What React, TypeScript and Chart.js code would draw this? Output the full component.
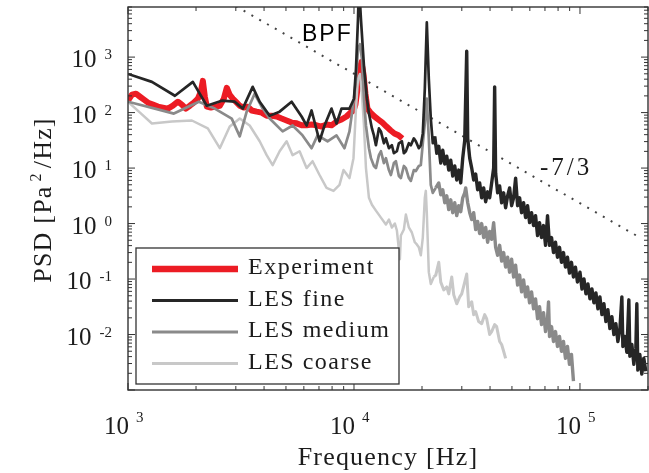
import React, { useEffect, useRef } from "react";
import { Chart, registerables } from "chart.js";

Chart.register(...registerables);

// ---------- axis ranges ----------
const X_MIN = 1000;
const X_MAX = 200000;
const Y_MIN = 0.001;
const Y_MAX = 8000;
const xTickExponents = [3, 4, 5];
const yTickExponents = [-2, -1, 0, 1, 2, 3];

// ---------- Experiment ----------
const expFreq = [1000,1041,1085,1130,1177,1226,1289,1357,1427,1502,1580,1663,1731,1803,1878,1956,2038,2101,2144,2188,2233,2326,2422,2549,2654,2736,2820,2908,3029,3122,3252,3388,3528,3710,3905,4109,4324,4549,4785,5034,5298,5575,5866,6172,6494,6832,7186,7561,7955,8371,8807,9265,9650,9949,10150,10360,10570,10790,11010,11240,11470,11830,12320,12830,13360,13920,14500,15100,15730,16370];
const expPsd = [164,210,219,193,171,151,139,128,123,118,133,157,139,118,133,151,178,237,373,193,128,123,128,133,178,280,209,178,151,133,123,128,109,104,100,88,88,85,78,72,66,64,59,59,61,59,56,61,59,69,75,85,100,109,139,268,562,814,497,218,118,100,85,75,66,56,48,42,39,34];

// ---------- LES fine ----------
const fineFreq = [1000,1276,1613,1936,2232,2600,2967,3219,3562,3826,4235,4688,5297,5864,6169,6491,7041,7408,7954,8369,8805,9550,10000,
10205,10415,10521,10737,11070,11412,11647,12007,12254,12505,12893,13157,13565,13844,14272,14714,15016,15481,15799,16288,16624,16965,17491,17850,18400,18778,19359,19757,20162,20579,21002,21433,
21873,22322,22778,23246,23723,24210,24708,25218,25736,26264,26804,27354,27918,28492,29077,29674,30283,30905,31539,31861,32516,33183,33856,34551,35261,35985,36724,37487,38257,39042,39844,40662,41498,41922,42350,43220,44107,45013,45940,46884,47846,48829,49831,50860,51905,52970,54058,55168,56300,57456,58636,59840,61069,62320,63600,64906,66239,67599,68990,70407,71852,73328,74833,76370,77939,79539,81172,82839,84540,86276,88048,89856,91701,93580,95502,97463,
100000,102054,104149,106288,108470,110697,112970,115290,117657,120073,122538,125054,127622,130242,132916,135645,138430,141272,144173,147134,150156,153240,154810,157990,161230,164540,166240,169650,173140,176690,178500,180320,184000,187780,191630,195570];
const finePsd = [497,358,201,358,133,164,157,118,291,157,88,104,157,85,58.6,109,30.4,58.6,118,63.6,118,118,178,
610,4770,20000,4770,691,178,96,51.8,38.8,25.8,51.8,45.8,28,34.3,22.8,25.8,18.5,20.1,28,30.4,18.5,20.1,28,25.8,34.3,30.4,22.8,25.8,42.2,268,4218,405,
78,28,37.3,18.5,24.7,12.3,21,11.8,16.4,9.2,13.9,7.2,10.9,6.1,9.2,5.4,15.1,31.6,1280,34.3,15.1,10,6.1,7.8,4.05,5.4,2.91,4.39,2.47,3.73,2.91,5.4,10,291,8.1,3.58,4.77,2.37,3.58,1.93,3.16,4.39,2.1,2.91,6.6,2.1,2.91,1.57,2.37,1.28,2.1,1.04,1.57,0.92,1.39,0.61,1.04,0.56,0.92,0.405,1.39,0.405,0.56,0.3,0.46,0.247,0.373,0.2,0.3,0.164,0.247,0.128,0.2,0.109,0.164,0.0884,
0.133,0.0663,0.1,0.054,0.0814,0.0439,0.0663,0.0373,0.0562,0.0291,0.0477,0.0228,0.0358,0.0171,0.028,0.0128,0.021,0.01,0.0157,0.0075,0.0123,0.0477,0.0061,0.0092,0.00477,0.0422,0.00405,0.00663,0.00291,0.00562,0.0358,0.00228,0.00439,0.00193,0.00373,0.00218];

// ---------- LES medium ----------
const medFreq = [1000,1316,1596,2058,2421,2878,3122,3351,3635,3944,4235,4834,5351,5923,6491,6899,7637,8369,9077,9550,10000,
10205,10415,10629,10847,11070,11297,11647,11886,12254,12505,12893,13157,13565,13844,14272,14565,15016,15324,15799,16123,16624,16965,17491,17850,18400,18778,19359,19757,20162,20579,21002,21433,
21873,22322,23011,23723,24210,24708,25218,25736,26264,26804,27354,27918,28492,29077,29674,30283,30905,31220,31861,32516,33183,33856,34551,35261,35985,36724,37487,38257,39042,39844,40662,41498,42350,43220,44107,45013,45940,46884,47846,48829,49831,50860,51905,52970,54058,55168,56300,57456,58636,59840,61069,62320,63600,64906,66239,67599,68990,70407,71852,72590,73328,74833,76370,77939,79539,81172,82839,84540,86276,88048,89856,91701,93580];
const medPsd = [157,118,96,157,118,78,37.3,104,218,118,78,45.8,58.6,38.8,22.8,38.8,30.4,38.8,22.8,45.8,178,
405,1389,1707,921,178,58.6,22.8,15.1,10.9,10,17.1,20.1,12.3,15.1,9.2,7.5,12.3,13.3,7.2,6.6,10.9,10,6.6,5.86,9.2,8.84,10.9,11.3,28,63.6,178,34.3,
4.97,3.58,4.39,5.4,3.3,4.05,2.37,3.16,1.78,2.68,1.57,2.37,1.39,2.1,1.64,2.91,3.58,4.39,2.37,1.57,1.18,1.57,0.78,1.09,0.66,1.0,0.56,0.85,0.46,0.72,0.52,1.04,0.373,0.268,0.405,0.21,0.3,0.164,0.247,0.133,0.228,0.109,0.178,0.078,0.118,0.0586,0.096,0.0477,0.072,0.0373,0.0586,0.0291,0.0439,0.0193,0.0316,0.0151,0.0247,0.0113,0.0193,0.0388,0.0092,0.0139,0.0075,0.0113,0.0061,0.0092,0.00497,0.0075,0.00373,0.0061,0.00291,0.00439,0.00145];

// ---------- LES coarse ----------
const coarseFreq = [1000,1130,1276,1564,1917,2255,2548,2820,3122,3455,3826,4108,4366,4688,5034,5351,5746,6169,6557,7041,7560,8117,8628,8986,9550,9949,10205,10415,10629,10847,11070,11297,11647,12007,12505,13157,13844,14272,14714,15169,15481,15960,16123,16624,16965,17491,18032,18588,18970,19359,19757,20162,20579,20790,21002,21433,21873,22548,23011,23723,24210,24963,25736,26264,27077,27636,28492,29374,29977,30905,31539,32187,33183,33856,34551,35621,36724,37870,38648,39844,40662,41922,42783,44107,45013,45940,46884];
const coarsePsd = [157,100,63.6,69,72,51.8,22.8,56.2,78,58.6,30.4,17.1,11.3,20.1,30.4,17.1,20.1,10,13.3,7.5,4.39,3.88,4.97,9.2,6.6,15.1,118,405,497,218,58.6,10,2.91,2.18,1.71,1.28,0.96,1.18,0.85,1.0,0.75,0.228,0.61,0.78,1.45,0.85,0.69,0.46,0.42,0.373,0.268,0.56,2.91,3.88,1.57,0.133,0.0814,0.109,0.118,0.2,0.088,0.0636,0.072,0.054,0.109,0.0518,0.0358,0.0477,0.054,0.088,0.123,0.0316,0.039,0.0228,0.0258,0.0171,0.0157,0.0228,0.0193,0.01,0.0113,0.0151,0.0139,0.0075,0.0066,0.005,0.0037];

// ---------- -7/3 reference slope ----------
const slopeFreq = [3000, 184000];
const slopePsd = [8300, 0.56];

const SERIF = '"Liberation Serif", "Times New Roman", serif';
const SANS = '"Liberation Sans", Arial, sans-serif';

function zip(xs: number[], ys: number[]) {
  const n = Math.min(xs.length, ys.length);
  const out: { x: number; y: number }[] = [];
  for (let i = 0; i < n; i++) out.push({ x: xs[i], y: ys[i] });
  return out;
}

function spacing(ctx: any, px: number) {
  try { ctx.letterSpacing = px + "px"; } catch (e) {}
}

// thicker stroke where the spectrum is a dense noisy band
const bandWidth = (base: number, wide: number) => ({
  borderWidth: (c: any) => (c.p0 && c.p0.parsed.x > 22500 ? wide : base),
});

const decor = {
  id: "decor",
  afterDatasetsDraw(chart: any) {
    const { ctx, chartArea: a } = chart;
    const xs = chart.scales.x;
    const ys = chart.scales.y;
    ctx.save();
    ctx.strokeStyle = "#333";
    ctx.lineWidth = 1.4;
    ctx.strokeRect(a.left, a.top, a.right - a.left, a.bottom - a.top);
    ctx.lineWidth = 1;
    ctx.beginPath();
    for (let e = 2; e <= 5; e++) {
      for (let k = 1; k <= 9; k++) {
        const v = k * Math.pow(10, e);
        if (v < X_MIN || v > X_MAX) continue;
        const p = xs.getPixelForValue(v);
        const len = k === 1 ? 7 : 4;
        ctx.moveTo(p, a.bottom); ctx.lineTo(p, a.bottom - len);
        ctx.moveTo(p, a.top); ctx.lineTo(p, a.top + len);
      }
    }
    for (let e = -3; e <= 3; e++) {
      for (let k = 1; k <= 9; k++) {
        const v = k * Math.pow(10, e);
        if (v < Y_MIN || v > Y_MAX) continue;
        const p = ys.getPixelForValue(v);
        const len = k === 1 ? 7 : 4;
        ctx.moveTo(a.left, p); ctx.lineTo(a.left + len, p);
        ctx.moveTo(a.right, p); ctx.lineTo(a.right - len, p);
      }
    }
    ctx.stroke();

    // legend
    const lx0 = 136, ly0 = 248, lx1 = 399, ly1 = 384;
    ctx.fillStyle = "#fff";
    ctx.fillRect(lx0, ly0, lx1 - lx0, ly1 - ly0);
    ctx.strokeStyle = "#333";
    ctx.lineWidth = 1.3;
    ctx.strokeRect(lx0, ly0, lx1 - lx0, ly1 - ly0);
    const items = chart.data.datasets.filter((d: any) => d.label);
    ctx.font = "24px " + SERIF;
    spacing(ctx, 1.5);
    ctx.textAlign = "left";
    ctx.textBaseline = "alphabetic";
    items.forEach((d: any, i: number) => {
      const y = 269 + i * 31.5;
      ctx.strokeStyle = d.borderColor;
      ctx.lineWidth = d.borderWidth + 0.5;
      ctx.beginPath();
      ctx.moveTo(152, y); ctx.lineTo(238, y);
      ctx.stroke();
      ctx.fillStyle = "#1c1c1c";
      ctx.fillText(d.label, 248, y + 5);
    });
    ctx.restore();
  },
  afterDraw(chart: any) {
    const { ctx } = chart;
    const xs = chart.scales.x;
    const ys = chart.scales.y;
    ctx.save();
    ctx.fillStyle = "#1c1c1c";
    ctx.textBaseline = "alphabetic";
    spacing(ctx, 0);
    yTickExponents.forEach((e) => {
      const p = ys.getPixelForValue(Math.pow(10, e));
      const es = String(e);
      ctx.font = "15px " + SERIF;
      const w = ctx.measureText(es).width;
      const expLeft = 112 - w;
      ctx.textAlign = "left";
      ctx.fillText(es, expLeft, p + 2);
      ctx.font = "25px " + SERIF;
      ctx.textAlign = "right";
      ctx.fillText("10", expLeft - 8, p + 10);
    });
    xTickExponents.forEach((e) => {
      const p = xs.getPixelForValue(Math.pow(10, e));
      ctx.font = "25px " + SERIF;
      ctx.textAlign = "right";
      ctx.fillText("10", p + 1, 434);
      ctx.font = "15px " + SERIF;
      ctx.textAlign = "left";
      ctx.fillText(String(e), p + 8, 422);
    });
    ctx.font = "26px " + SERIF;
    spacing(ctx, 1.2);
    ctx.textAlign = "center";
    ctx.fillText("Frequency [Hz]", 388, 465);
    ctx.save();
    ctx.translate(51, 200);
    ctx.rotate(-Math.PI / 2);
    ctx.textAlign = "left";
    const p1 = "PSD [Pa", p2 = "2", p3 = "/Hz]";
    ctx.font = "26px " + SERIF;
    const w1 = ctx.measureText(p1).width;
    const w3 = ctx.measureText(p3).width;
    ctx.font = "16px " + SERIF;
    const w2 = ctx.measureText(p2).width;
    const gap = 4;
    const total = w1 + gap + w2 + gap + w3;
    let cx = -total / 2;
    ctx.font = "26px " + SERIF;
    ctx.fillText(p1, cx, 0);
    cx += w1 + gap;
    ctx.font = "16px " + SERIF;
    ctx.fillText(p2, cx, -10);
    cx += w2 + gap;
    ctx.font = "26px " + SERIF;
    ctx.fillText(p3, cx, 0);
    ctx.restore();
    ctx.font = "23px " + SANS;
    spacing(ctx, 2);
    ctx.textAlign = "left";
    ctx.fillStyle = "#000";
    ctx.fillText("BPF", 302, 41);
    ctx.font = "25px " + SERIF;
    spacing(ctx, 3);
    ctx.fillStyle = "#1c1c1c";
    ctx.fillText("-7/3", 540, 175);
    ctx.restore();
  },
};

export default function App() {
  const ref = useRef<HTMLCanvasElement | null>(null);
  useEffect(() => {
    document.body.style.margin = "0";
    const canvas = ref.current;
    if (!canvas) return;
    const chart = new Chart(canvas, {
      type: "line",
      data: {
        datasets: [
          { label: "Experiment", data: zip(expFreq, expPsd), borderColor: "#ec1c24", borderWidth: 6, order: 3 },
          { label: "LES fine", data: zip(fineFreq, finePsd), borderColor: "#262626", borderWidth: 2.7, order: 0, segment: bandWidth(2.7, 3.4) },
          { label: "LES medium", data: zip(medFreq, medPsd), borderColor: "#8a8a8a", borderWidth: 2.7, order: 1, segment: bandWidth(2.7, 3.4) },
          { label: "LES coarse", data: zip(coarseFreq, coarsePsd), borderColor: "#c8c8c8", borderWidth: 2.5, order: 2, segment: bandWidth(2.5, 3.0) },
          { label: "", data: zip(slopeFreq, slopePsd), borderColor: "#444", borderWidth: 2, borderDash: [2, 7], order: 4 },
        ].map((d: any) => ({ ...d, pointRadius: 0, tension: 0, fill: false, clip: 0, borderJoinStyle: "round" })),
      },
      options: {
        responsive: false,
        animation: false,
        layout: { padding: { left: 128, top: 7, right: 1, bottom: 83 } },
        plugins: { legend: { display: false }, tooltip: { enabled: false } },
        scales: {
          x: { type: "logarithmic", min: X_MIN, max: X_MAX, display: false },
          y: { type: "logarithmic", min: Y_MIN, max: Y_MAX, display: false },
        },
      },
      plugins: [decor],
    } as any);
    return () => chart.destroy();
  }, []);
  return (
    <div style={{ position: "absolute", left: 0, top: 0, width: 649, height: 473, background: "#fff" }}>
      <canvas ref={ref} width={649} height={473} />
    </div>
  );
}
